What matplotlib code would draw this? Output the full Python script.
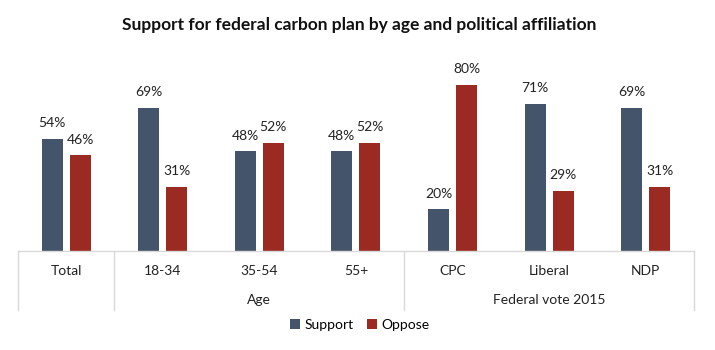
import matplotlib.pyplot as plt
import numpy as np

# data
categories = ['Total', '18-34', '35-54', '55+', 'CPC', 'Liberal', 'NDP']
support = [54, 69, 48, 48, 20, 71, 69]
oppose = [46, 31, 52, 52, 80, 29, 31]
groups = [('Age', 1, 3), ('Federal vote 2015', 4, 6)]
title = 'Support for federal carbon plan by age and political affiliation'

plt.rcParams['font.family'] = ['Lato', 'DejaVu Sans']
c_sup = '#44546A'
c_opp = '#9A2A22'
grid_c = '#D9D9D9'

fig = plt.figure(figsize=(7.15, 3.5), dpi=100)
ax = fig.add_axes([0.025, 0.283, 0.9455, 0.534])

x = np.arange(len(categories))
w = 0.217
off = 0.145
b1 = ax.bar(x - off, support, w, color=c_sup, label='Support')
b2 = ax.bar(x + off, oppose, w, color=c_opp, label='Oppose')
for bars in (b1, b2):
    for r in bars:
        ax.annotate(f'{r.get_height():.0f}%', (r.get_x() + r.get_width() / 2, r.get_height()),
                    xytext=(0, 7), textcoords='offset points', ha='center', va='bottom',
                    fontsize=10, color='#222222')

ax.set_xlim(-0.5, len(categories) - 0.5)
ax.set_ylim(0, 90)
ax.set_yticks([])
ax.set_xticks([])
for s in ax.spines.values():
    s.set_visible(False)

# category axis box
tr = ax.get_xaxis_transform()
ax.plot([-0.5, len(categories) - 0.5], [0, 0], color=grid_c, lw=1, transform=tr, clip_on=False)
for xv in [-0.5, 0.5, 3.5, len(categories) - 0.5]:
    ax.plot([xv, xv], [0, -0.316], color=grid_c, lw=1, transform=tr, clip_on=False)
for i, c in enumerate(categories):
    ax.text(i, -0.107, c, transform=tr, ha='center', va='center', fontsize=10, color='#222222')
for name, a, b in groups:
    ax.text((a + b) / 2, -0.262, name, transform=tr, ha='center', va='center', fontsize=10, color='#222222')

fig.text(0.503, 0.928, title, ha='center', va='center', fontsize=12.5, fontweight='bold', color='#111111')
fig.legend(handles=[b1, b2], loc='center', bbox_to_anchor=(0.503, 0.071), ncol=2, frameon=False,
           fontsize=10, handlelength=0.7, handleheight=0.7, handletextpad=0.3, columnspacing=1.0)

fig.savefig('out.png', dpi=100, facecolor='white')
